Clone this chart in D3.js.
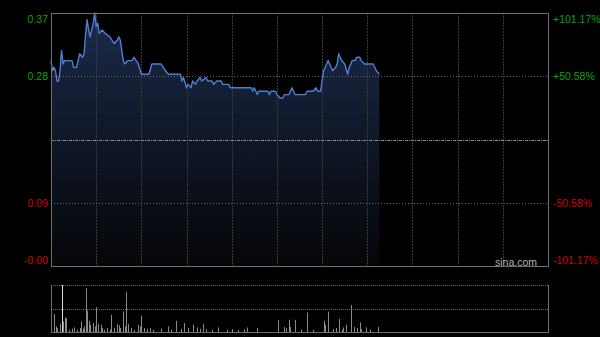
<!DOCTYPE html>
<html>
<head>
<meta charset="utf-8">
<script src="https://cdn.jsdelivr.net/npm/d3@7"></script>
<style>
  html, body { margin: 0; padding: 0; background: #000; }
  svg text { font-family: "Liberation Sans", Arial, sans-serif; }
</style>
</head>
<body>
<div id="chart"></div>
<script>
// minute index (0..330 for a HK session) and price
const priceMinutes = [0, 1, 2, 3, 4, 5, 6, 7, 8, 9, 10, 14, 15, 17, 19, 21, 22, 23, 24, 25, 26, 28, 29, 30, 31, 32, 34, 36, 39, 42, 44, 45, 46, 48, 49, 51, 54, 55, 58, 60, 62, 65, 67, 73, 76, 78, 80, 86, 87, 88, 90, 91, 93, 94, 96, 97, 99, 100, 103, 104, 107, 108, 110, 113, 114, 118, 119, 133, 134, 135, 137, 138, 144, 145, 146, 149, 150, 152, 154, 155, 158, 160, 162, 165, 169, 170, 174, 176, 177, 179, 180, 181, 184, 185, 187, 189, 190, 191, 192, 193, 195, 197, 198, 200, 202, 203, 205, 206, 208, 214, 216, 218];
const prices = [0.30, 0.285, 0.29, 0.285, 0.27, 0.27, 0.285, 0.315, 0.295, 0.30, 0.30, 0.30, 0.29, 0.29, 0.31, 0.305, 0.31, 0.34, 0.36, 0.345, 0.335, 0.355, 0.37, 0.35, 0.355, 0.34, 0.345, 0.34, 0.335, 0.325, 0.33, 0.335, 0.33, 0.30, 0.295, 0.30, 0.30, 0.305, 0.295, 0.28, 0.28, 0.28, 0.295, 0.295, 0.285, 0.28, 0.28, 0.28, 0.27, 0.275, 0.26, 0.265, 0.26, 0.27, 0.265, 0.27, 0.275, 0.27, 0.275, 0.27, 0.27, 0.265, 0.27, 0.27, 0.265, 0.265, 0.26, 0.26, 0.255, 0.26, 0.25, 0.255, 0.255, 0.25, 0.255, 0.255, 0.25, 0.245, 0.245, 0.25, 0.25, 0.26, 0.25, 0.25, 0.25, 0.255, 0.255, 0.26, 0.255, 0.255, 0.27, 0.285, 0.30, 0.295, 0.285, 0.29, 0.295, 0.31, 0.305, 0.30, 0.295, 0.28, 0.29, 0.30, 0.30, 0.305, 0.305, 0.30, 0.295, 0.295, 0.285, 0.28];

const volMinutes = [0, 2, 3, 4, 6, 7, 8, 9, 10, 12, 14, 15, 17, 19, 20, 21, 22, 23, 24, 25, 26, 28, 29, 30, 31, 33, 34, 35, 37, 39, 40, 42, 44, 45, 46, 48, 49, 50, 51, 53, 55, 58, 59, 60, 62, 64, 66, 68, 73, 78, 80, 83, 86, 88, 91, 94, 97, 99, 101, 103, 107, 111, 117, 120, 124, 128, 130, 137, 151, 155, 156, 158, 159, 162, 166, 170, 174, 181, 182, 184, 187, 189, 191, 193, 194, 196, 199, 201, 203, 205, 206, 209, 212, 217];
const volumes = [446, 180, 56, 40, 80, 473, 106, 146, 140, 23, 33, 46, 23, 40, 106, 33, 56, 440, 213, 113, 73, 90, 56, 250, 80, 73, 40, 23, 40, 23, 173, 40, 80, 66, 40, 206, 56, 400, 80, 40, 23, 73, 56, 166, 40, 30, 40, 23, 33, 56, 23, 113, 33, 90, 40, 73, 46, 33, 80, 30, 23, 46, 23, 30, 23, 30, 46, 40, 123, 50, 40, 123, 50, 123, 23, 196, 23, 113, 73, 206, 30, 40, 133, 23, 46, 73, 273, 50, 40, 96, 30, 46, 23, 50];

const prevClose = 0.18392;
const leftTicks = ["0.37", "0.28", "", "0.09", "-0.00"];
const rightTicks = ["+101.17%", "+50.58%", "", "-50.58%", "-101.17%"];
const totalMinutes = 330;

const W = 600, H = 337;
const plot = { left: 51, right: 548, top: 13, bottom: 266 };
const volBox = { top: 285, bottom: 332 };

const svg = d3.select("#chart").append("svg")
  .attr("width", W).attr("height", H)
  .style("background", "#000");

const x = d3.scaleLinear().domain([0, totalMinutes]).range([plot.left, plot.right]);
const maxDev = 1.0117;
const y = d3.scaleLinear()
  .domain([prevClose * (1 - maxDev), prevClose * (1 + maxDev)])
  .range([plot.bottom, plot.top]);

// gradient for the area
const defs = svg.append("defs");
const grad = defs.append("linearGradient")
  .attr("id", "area-grad")
  .attr("gradientUnits", "userSpaceOnUse")
  .attr("x1", 0).attr("y1", plot.top).attr("x2", 0).attr("y2", plot.bottom);
grad.selectAll("stop")
  .data([
    { offset: "0%", color: "#1c2b4a" },
    { offset: "55%", color: "#0e1524" },
    { offset: "100%", color: "#050608" },
  ])
  .enter().append("stop")
  .attr("offset", d => d.offset)
  .attr("stop-color", d => d.color);

const pts = priceMinutes.map((m, i) => ({ m: m, p: prices[i] }));

svg.append("path")
  .datum(pts)
  .attr("fill", "url(#area-grad)")
  .attr("d", d3.area().x(d => x(d.m)).y0(plot.bottom).y1(d => y(d.p)));

// vertical grid (every 30 min)
const vTicks = d3.range(30, totalMinutes, 30);
svg.append("g").selectAll("line").data(vTicks).enter().append("line")
  .attr("x1", d => Math.round(x(d)) + 0.5).attr("x2", d => Math.round(x(d)) + 0.5)
  .attr("y1", plot.top).attr("y2", plot.bottom)
  .attr("stroke", "#3a3a3a").attr("stroke-dasharray", "2,1");

// horizontal grid
const hPos = [0.25, 0.5, 0.75];
svg.append("g").selectAll("line").data(hPos).enter().append("line")
  .attr("x1", plot.left).attr("x2", plot.right)
  .attr("y1", d => Math.round(plot.top + d * (plot.bottom - plot.top)) + 0.5)
  .attr("y2", d => Math.round(plot.top + d * (plot.bottom - plot.top)) + 0.5)
  .attr("stroke", d => d === 0.5 ? "#8a8f9a" : "#6a6a6a")
  .attr("stroke-width", d => d === 0.5 ? 1 : 1)
  .attr("stroke-dasharray", d => d === 0.5 ? "3,1,1,1" : "1,2");

// price line
svg.append("path")
  .datum(pts)
  .attr("fill", "none")
  .attr("stroke", "#4d7fd6")
  .attr("stroke-width", 1.4)
  .attr("stroke-linejoin", "round")
  .attr("d", d3.line().x(d => x(d.m)).y(d => y(d.p)));

// frame
svg.append("rect")
  .attr("x", plot.left + 0.5).attr("y", plot.top + 0.5)
  .attr("width", plot.right - plot.left).attr("height", plot.bottom - plot.top)
  .attr("fill", "none").attr("stroke", "#6e6e6e");

// labels
const labelY = (i) => {
  const yy = plot.top + i * (plot.bottom - plot.top) / 4;
  return Math.min(Math.max(yy, plot.top + 6), plot.bottom - 6);
};
const labelColor = (i) => i < 2 ? "#0fa30f" : "#d00000";

svg.append("g").selectAll("text").data(leftTicks).enter().append("text")
  .attr("x", 48).attr("y", (d, i) => labelY(i))
  .attr("dy", "0.36em")
  .attr("text-anchor", "end")
  .attr("font-size", "10.5px")
  .attr("fill", (d, i) => labelColor(i))
  .text(d => d);

svg.append("g").selectAll("text").data(rightTicks).enter().append("text")
  .attr("x", 553).attr("y", (d, i) => labelY(i))
  .attr("dy", "0.36em")
  .attr("text-anchor", "start")
  .attr("font-size", "10.5px")
  .attr("fill", (d, i) => labelColor(i))
  .text(d => d);

svg.append("text")
  .attr("x", 537).attr("y", 262)
  .attr("dy", "0.36em")
  .attr("text-anchor", "end")
  .attr("font-size", "10.5px")
  .attr("fill", "#b0b0b0")
  .text("sina.com");

// volume chart
const vy = d3.scaleLinear()
  .domain([0, d3.max(volumes)])
  .range([volBox.bottom, volBox.top]);

svg.append("g").selectAll("line").data([volBox.top, (volBox.top + volBox.bottom) / 2]).enter().append("line")
  .attr("x1", plot.left).attr("x2", plot.right)
  .attr("y1", d => Math.round(d) + 0.5).attr("y2", d => Math.round(d) + 0.5)
  .attr("stroke", "#6a6a6a").attr("stroke-dasharray", "1,1");

svg.append("g").selectAll("rect").data(volMinutes).enter().append("rect")
  .attr("x", d => Math.round(x(d)))
  .attr("y", (d, i) => vy(volumes[i]))
  .attr("width", 1)
  .attr("height", (d, i) => volBox.bottom - vy(volumes[i]))
  .attr("fill", (d, i) => volumes[i] === d3.max(volumes) ? "#d8d8d8" : "#8a8a8a");

svg.append("line")
  .attr("x1", plot.left + 0.5).attr("x2", plot.left + 0.5)
  .attr("y1", volBox.top).attr("y2", volBox.bottom + 1)
  .attr("stroke", "#6e6e6e");
svg.append("line")
  .attr("x1", plot.right + 0.5).attr("x2", plot.right + 0.5)
  .attr("y1", volBox.top).attr("y2", volBox.bottom + 1)
  .attr("stroke", "#6e6e6e");
svg.append("line")
  .attr("x1", plot.left).attr("x2", plot.right + 1)
  .attr("y1", volBox.bottom + 0.5).attr("y2", volBox.bottom + 0.5)
  .attr("stroke", "#6e6e6e");
</script>
</body>
</html>
